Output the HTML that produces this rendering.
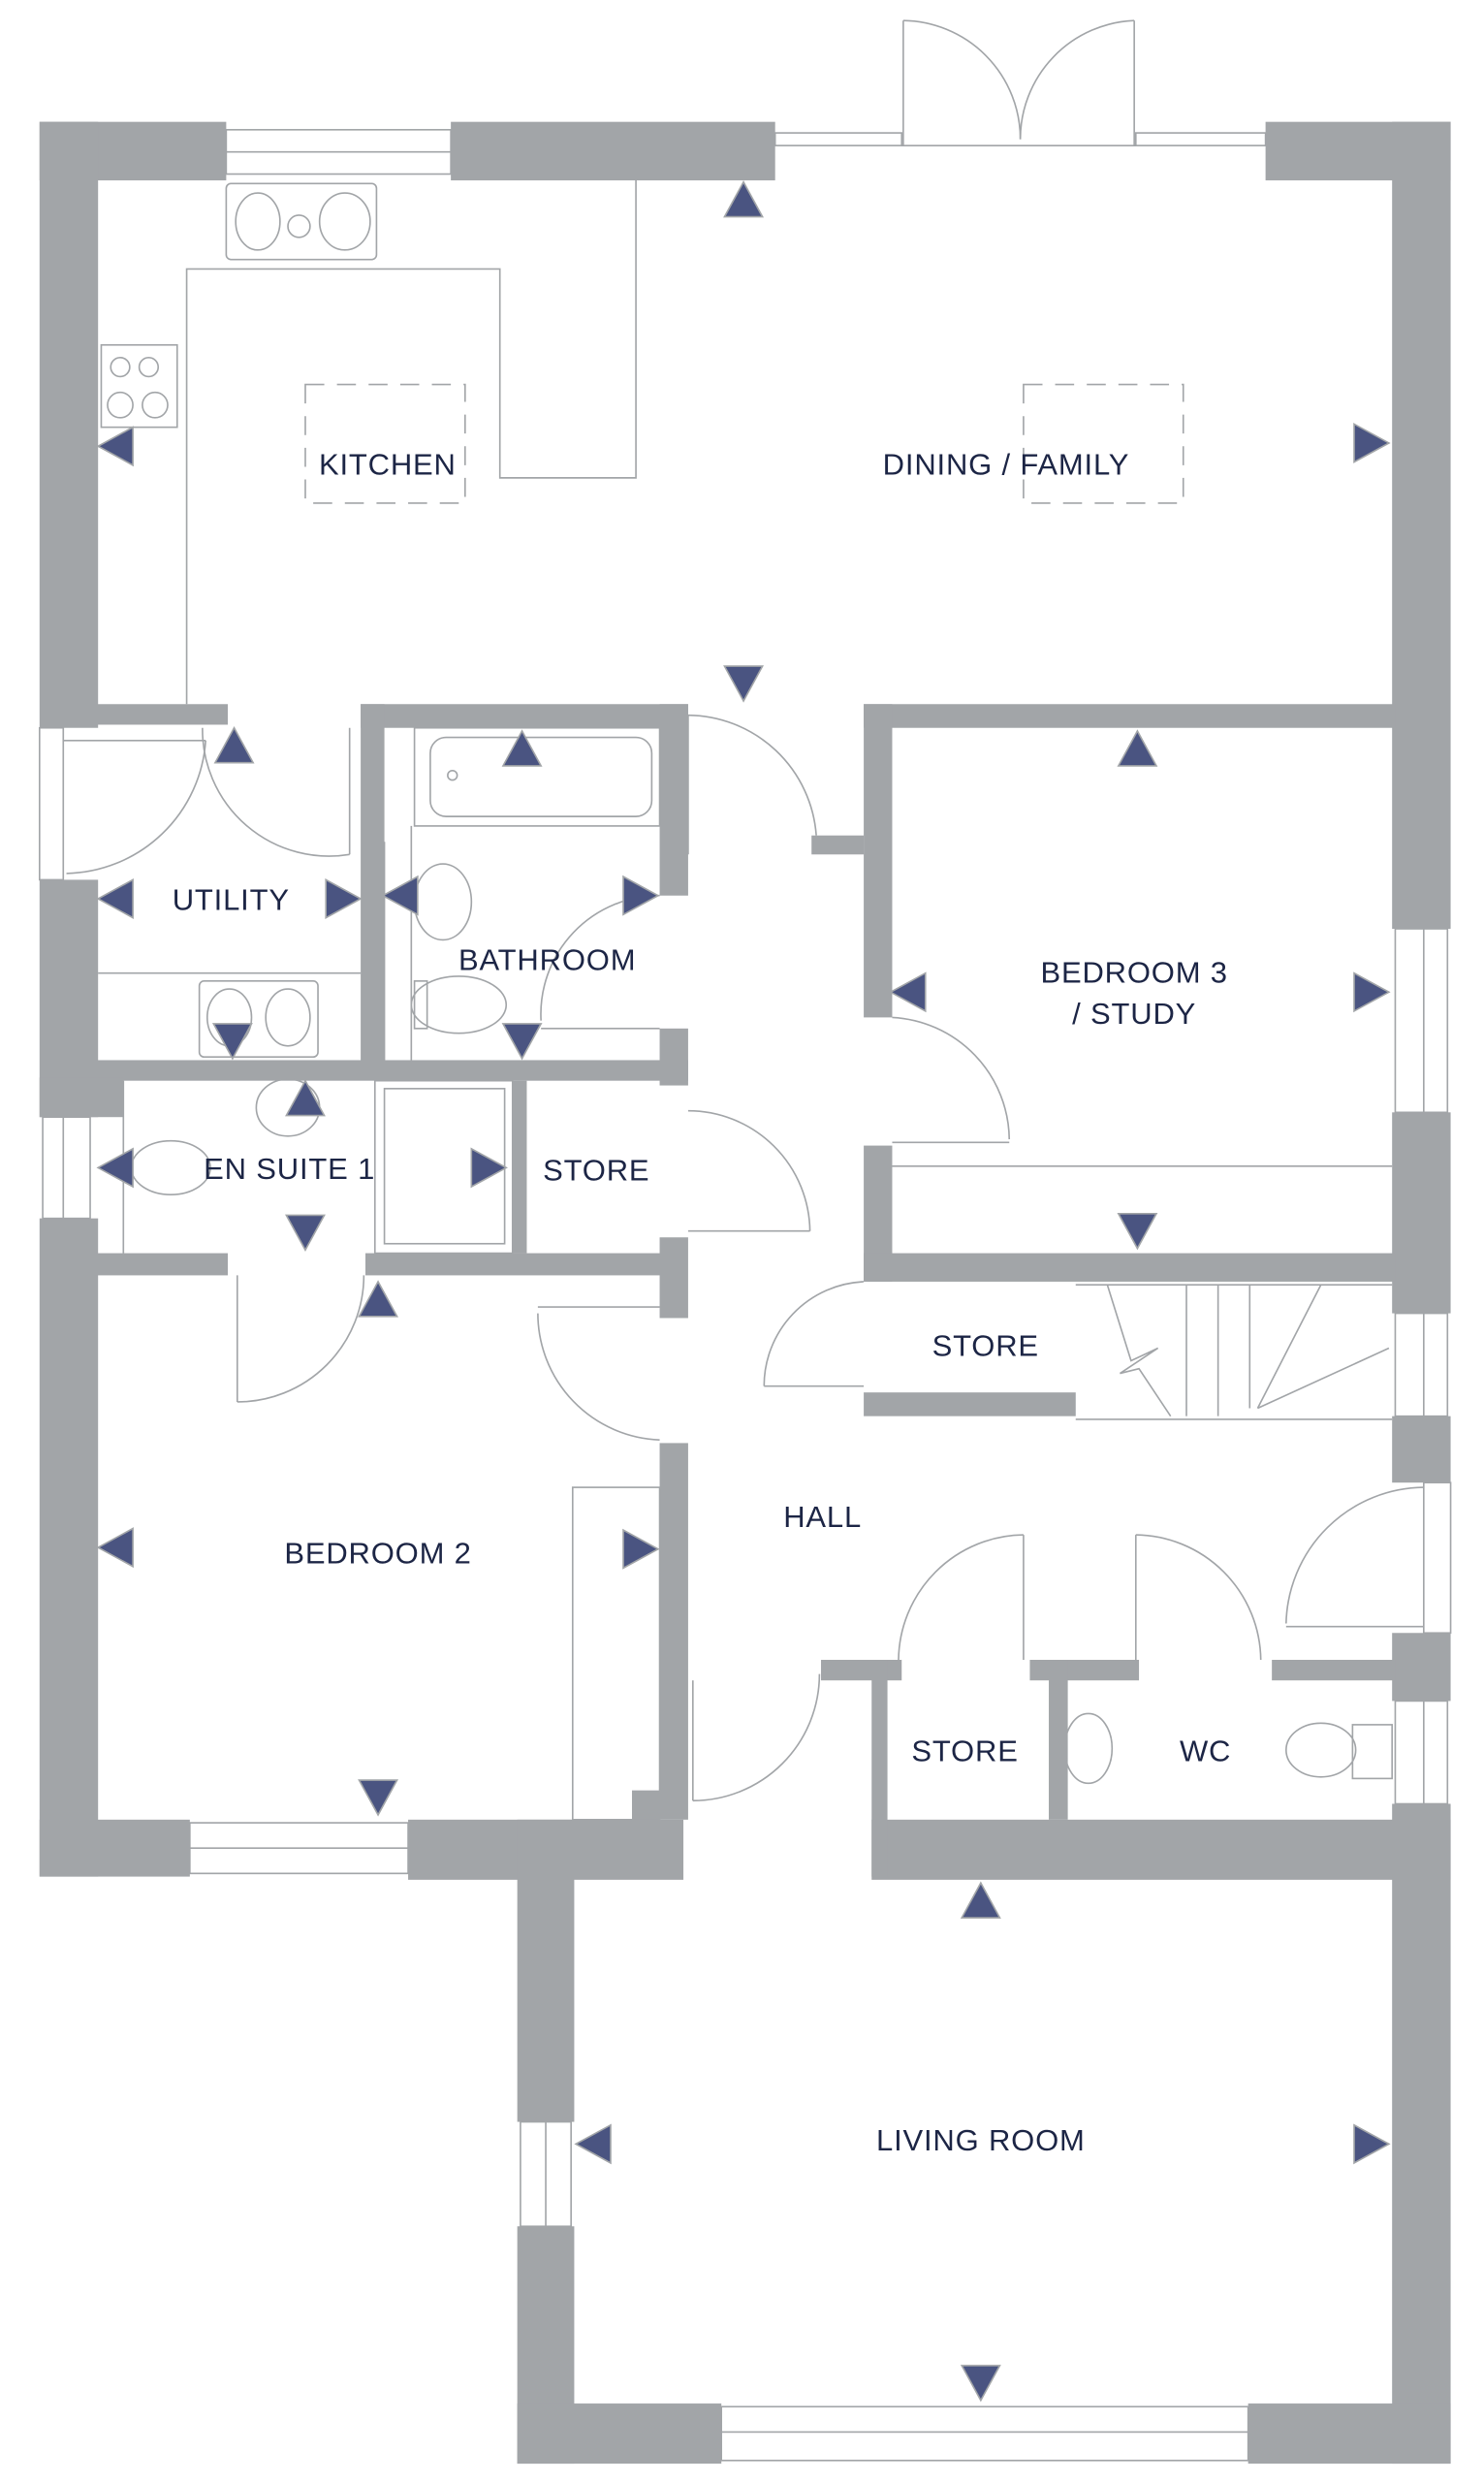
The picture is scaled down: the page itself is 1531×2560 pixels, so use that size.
<!DOCTYPE html>
<html><head><meta charset="utf-8"><style>
html,body{margin:0;padding:0;background:#fff;}
svg{display:block;}
text{font-family:"Liberation Sans",sans-serif;fill:#1c2545;font-size:19px;text-anchor:middle;letter-spacing:0.5px;}
</style></head><body>
<svg width="1531" height="2560" viewBox="0 0 938.1 1568.6" preserveAspectRatio="none" xmlns="http://www.w3.org/2000/svg">
<g fill="#a2a5a8">
<rect x="25" y="77" width="118" height="37"/>
<rect x="285" y="77" width="205" height="37"/>
<rect x="800" y="77" width="117" height="37"/>
<rect x="25" y="77" width="37" height="383"/>
<rect x="25" y="556" width="37" height="150"/>
<rect x="25" y="770" width="37" height="416"/>
<rect x="880" y="77" width="37" height="510"/>
<rect x="880" y="703" width="37" height="127"/>
<rect x="880" y="895" width="37" height="42"/>
<rect x="880" y="1032" width="37" height="43"/>
<rect x="880" y="1140" width="37" height="417"/>
<rect x="25" y="1150" width="95" height="36"/>
<rect x="258" y="1150" width="174" height="38"/>
<rect x="327" y="1150" width="36" height="191"/>
<rect x="327" y="1407" width="36" height="150"/>
<rect x="327" y="1519" width="129" height="38"/>
<rect x="789" y="1519" width="128" height="38"/>
<rect x="551" y="1150" width="366" height="38"/>
<rect x="60" y="445" width="84" height="13"/>
<rect x="228" y="445" width="207" height="15"/>
<rect x="228" y="445" width="15" height="236"/>
<rect x="417" y="445" width="18" height="121"/>
<rect x="546" y="445" width="336" height="15"/>
<rect x="546" y="445" width="18" height="198"/>
<rect x="546" y="724" width="18" height="86"/>
<rect x="546" y="792" width="336" height="18"/>
<rect x="546" y="880" width="134" height="15"/>
<rect x="60" y="670" width="375" height="13"/>
<rect x="25" y="681" width="53" height="25"/>
<rect x="324" y="683" width="9" height="109"/>
<rect x="417" y="650" width="18" height="36"/>
<rect x="60" y="792" width="84" height="14"/>
<rect x="231" y="792" width="201" height="14"/>
<rect x="417" y="782" width="18" height="51"/>
<rect x="417" y="912" width="18" height="238"/>
<rect x="519" y="1049" width="51" height="13"/>
<rect x="551" y="1049" width="10" height="137"/>
<rect x="651" y="1049" width="69" height="13"/>
<rect x="663" y="1049" width="12" height="101"/>
<rect x="804" y="1049" width="78" height="13"/>
<rect x="513" y="528" width="33" height="12"/>
</g>
<g fill="none" stroke="#a2a5a8" stroke-width="1">
<rect x="143" y="82" width="142" height="28"/><line x1="143" y1="96" x2="285" y2="96"/>
<rect x="490" y="84" width="80" height="8"/><rect x="718" y="84" width="82" height="8"/>
<line x1="570" y1="92" x2="718" y2="92"/>
<line x1="571" y1="13" x2="571" y2="92"/><line x1="717" y1="13" x2="717" y2="92"/>
<path d="M571,13 A75,75 0 0 1 645,88"/><path d="M717,13 A75,75 0 0 0 645,88"/>
<rect x="120" y="1152" width="138" height="32"/><line x1="120" y1="1168" x2="258" y2="1168"/>
<rect x="456" y="1521" width="333" height="34"/><line x1="456" y1="1537" x2="789" y2="1537"/>
<rect x="329" y="1341" width="32" height="66"/><line x1="345" y1="1341" x2="345" y2="1407"/>
<rect x="27" y="706" width="30" height="64"/><line x1="40" y1="706" x2="40" y2="770"/>
<rect x="882" y="587" width="33" height="116"/><line x1="900" y1="587" x2="900" y2="703"/>
<rect x="882" y="830" width="33" height="65"/><line x1="900" y1="830" x2="900" y2="895"/>
<rect x="882" y="1075" width="33" height="65"/><line x1="900" y1="1075" x2="900" y2="1140"/>
<rect x="900" y="937" width="17" height="95"/>
<rect x="25" y="460" width="15" height="96"/>
<path d="M40,468 L130,468"/><path d="M130,468 A90,90 0 0 1 42,552"/>
<polyline points="118,445 118,170 316,170 316,302 402,302 402,114"/>
<rect x="193" y="243" width="101" height="75" stroke-dasharray="12,8"/>
<rect x="647" y="243" width="101" height="75" stroke-dasharray="12,8"/>
<rect x="143" y="116" width="95" height="48" rx="3"/>
<ellipse cx="163" cy="140" rx="14" ry="18"/><ellipse cx="218" cy="140" rx="16" ry="18"/><circle cx="189" cy="143" r="7"/>
<rect x="64" y="218" width="48" height="52"/>
<circle cx="76" cy="232" r="6"/><circle cx="94" cy="232" r="6"/><circle cx="76" cy="256" r="8"/><circle cx="98" cy="256" r="8"/>
<line x1="221" y1="460" x2="221" y2="540"/>
<path d="M128,460 A80,80 0 0 0 221,540"/>
<line x1="62" y1="615" x2="228" y2="615"/>
<rect x="126" y="620" width="75" height="48" rx="3"/>
<ellipse cx="145" cy="643" rx="14" ry="18"/><ellipse cx="182" cy="643" rx="14" ry="18"/>
<rect x="262" y="460" width="155" height="62"/><rect x="272" y="466" width="140" height="50" rx="10"/><circle cx="286" cy="490" r="3"/>
<line x1="243" y1="532" x2="243" y2="670"/><line x1="260" y1="522" x2="260" y2="670"/>
<ellipse cx="280" cy="570" rx="18" ry="24"/>
<ellipse cx="290" cy="635" rx="30" ry="18"/><rect x="262" y="620" width="8" height="30"/>
<line x1="342" y1="650" x2="417" y2="650"/><path d="M417,566 A75,75 0 0 0 342,645"/>
<line x1="435" y1="452" x2="435" y2="540"/><path d="M435,452 A82,82 0 0 1 516,528"/>
<line x1="78" y1="683" x2="78" y2="792"/>
<ellipse cx="182" cy="700" rx="20" ry="18"/>
<ellipse cx="108" cy="738" rx="25" ry="17"/>
<rect x="237" y="683" width="87" height="109"/><rect x="243" y="688" width="76" height="98"/>
<line x1="150" y1="806" x2="150" y2="886"/><path d="M150,886 A80,80 0 0 0 230,806"/>
<line x1="435" y1="778" x2="512" y2="778"/><path d="M435,702 A77,77 0 0 1 512,778"/>
<line x1="564" y1="722" x2="638" y2="722"/><path d="M564,643 A78,78 0 0 1 638,720"/>
<line x1="564" y1="737" x2="880" y2="737"/>
<line x1="340" y1="826" x2="417" y2="826"/><path d="M340,830 A80,80 0 0 0 417,910"/>
<rect x="362" y="940" width="55" height="210"/>
<rect x="400" y="1132" width="17" height="18" fill="#a2a5a8"/>
<line x1="438" y1="1062" x2="438" y2="1138"/><path d="M438,1138 A80,80 0 0 0 518,1058"/>
<line x1="647" y1="970" x2="647" y2="1049"/><path d="M647,970 A80,80 0 0 0 568,1049"/>
<line x1="718" y1="970" x2="718" y2="1049"/><path d="M718,970 A80,80 0 0 1 797,1049"/>
<line x1="813" y1="1028" x2="900" y2="1028"/><path d="M900,940 A88,88 0 0 0 813,1026"/>
<line x1="483" y1="876" x2="546" y2="876"/><path d="M546,810 A66,66 0 0 0 483,876"/>
<line x1="680" y1="812" x2="880" y2="812"/>
<polyline points="700,812 715,860 732,852 708,868 720,865 740,895"/>
<line x1="750" y1="812" x2="750" y2="895"/><line x1="770" y1="812" x2="770" y2="895"/><line x1="790" y1="812" x2="790" y2="890"/>
<line x1="835" y1="812" x2="795" y2="890"/><line x1="878" y1="852" x2="795" y2="890"/>
<line x1="680" y1="897" x2="880" y2="897"/>
<ellipse cx="688" cy="1105" rx="15" ry="22"/>
<ellipse cx="835" cy="1106" rx="22" ry="17"/><rect x="855" y="1090" width="25" height="34"/>
</g>
<g fill="#4a5481" stroke="#a2a5a8" stroke-width="1">
<polygon points="458,137 482,137 470,115"/>
<polygon points="458,421 482,421 470,443"/>
<polygon points="84,270 84,294 62,282"/>
<polygon points="856,268 856,292 878,280"/>
<polygon points="136,482 160,482 148,460"/>
<polygon points="84,556 84,580 62,568"/>
<polygon points="206,556 206,580 228,568"/>
<polygon points="318,484 342,484 330,462"/>
<polygon points="264,554 264,578 242,566"/>
<polygon points="394,554 394,578 416,566"/>
<polygon points="318,647 342,647 330,669"/>
<polygon points="135,647 159,647 147,669"/>
<polygon points="181,705 205,705 193,683"/>
<polygon points="84,726 84,750 62,738"/>
<polygon points="298,726 298,750 320,738"/>
<polygon points="181,768 205,768 193,790"/>
<polygon points="227,832 251,832 239,810"/>
<polygon points="707,484 731,484 719,462"/>
<polygon points="585,615 585,639 563,627"/>
<polygon points="856,615 856,639 878,627"/>
<polygon points="707,767 731,767 719,789"/>
<polygon points="84,966 84,990 62,978"/>
<polygon points="394,967 394,991 416,979"/>
<polygon points="227,1125 251,1125 239,1147"/>
<polygon points="608,1212 632,1212 620,1190"/>
<polygon points="386,1343 386,1367 364,1355"/>
<polygon points="856,1343 856,1367 878,1355"/>
<polygon points="608,1495 632,1495 620,1517"/>
</g>
<text x="245" y="300">KITCHEN</text>
<text x="636" y="300">DINING / FAMILY</text>
<text x="146" y="575">UTILITY</text>
<text x="346" y="613">BATHROOM</text>
<text x="717" y="621">BEDROOM 3</text>
<text x="717" y="647">/ STUDY</text>
<text x="183" y="745">EN SUITE 1</text>
<text x="377" y="746">STORE</text>
<text x="623" y="857">STORE</text>
<text x="520" y="965">HALL</text>
<text x="239" y="988">BEDROOM 2</text>
<text x="610" y="1113">STORE</text>
<text x="762" y="1113">WC</text>
<text x="620" y="1359">LIVING ROOM</text>
</svg>
</body></html>
